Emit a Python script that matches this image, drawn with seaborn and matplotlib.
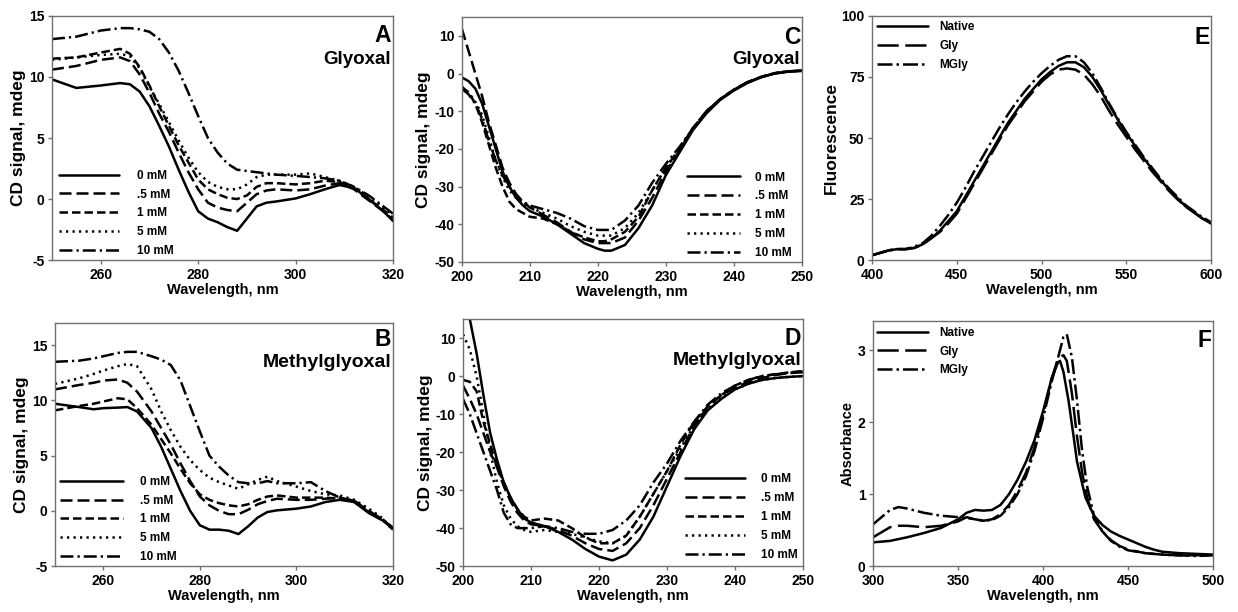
import numpy as np
import matplotlib
matplotlib.use("Agg")
import matplotlib.pyplot as plt
import seaborn as sns

# ---- Panel A: Glyoxal, near-UV CD ----
wl_a = [250, 255, 260, 264, 266, 268, 270, 272, 274, 276, 278, 280, 282, 284, 286, 288,
        290, 292, 294, 296, 300, 303, 306, 309, 312, 315, 318, 320]
a_0 = [9.8, 9.1, 9.3, 9.5, 9.4, 8.8, 7.6, 6.0, 4.3, 2.4, 0.6, -1.0, -1.6, -1.9, -2.3, -2.6,
       -1.6, -0.6, -0.3, -0.2, 0.05, 0.4, 0.8, 1.15, 0.9, 0.0, -1.0, -1.8]
a_05 = [10.6, 10.9, 11.4, 11.6, 11.3, 10.2, 8.7, 7.0, 5.5, 3.8, 2.2, 0.8, -0.3, -0.7, -0.9, -1.0,
        -0.3, 0.4, 0.7, 0.8, 0.7, 0.8, 1.1, 1.3, 0.8, -0.1, -1.0, -1.7]
a_1 = [11.5, 11.6, 12.0, 12.3, 11.9, 10.8, 9.3, 7.6, 6.0, 4.4, 3.0, 1.6, 0.8, 0.4, 0.1, 0.0,
       0.3, 1.0, 1.3, 1.3, 1.2, 1.3, 1.5, 1.4, 0.9, 0.0, -0.9, -1.5]
a_5 = [11.4, 11.6, 11.8, 11.9, 11.7, 10.7, 9.2, 7.8, 6.3, 4.8, 3.4, 2.2, 1.4, 1.0, 0.8, 0.8,
       1.2, 1.8, 2.0, 2.0, 2.0, 2.1, 1.8, 1.5, 1.0, 0.2, -0.7, -1.3]
a_10 = [13.1, 13.3, 13.8, 14.0, 14.0, 13.9, 13.7, 13.1, 12.0, 10.5, 8.7, 6.8, 5.0, 3.8, 2.9, 2.4,
        2.3, 2.2, 2.1, 2.0, 1.9, 1.8, 1.7, 1.5, 1.0, 0.3, -0.6, -1.2]

# ---- Panel B: Methylglyoxal, near-UV CD ----
wl_b = [250, 255, 258, 260, 263, 265, 267, 270, 272, 274, 276, 278, 280, 282, 284, 286, 288,
        290, 292, 294, 296, 300, 303, 306, 309, 312, 315, 318, 320]
b_0 = [9.7, 9.4, 9.2, 9.3, 9.35, 9.4, 9.0, 7.5, 5.8, 3.8, 1.8, 0.0, -1.3, -1.7, -1.7, -1.8, -2.1,
       -1.4, -0.6, -0.1, 0.05, 0.2, 0.4, 0.8, 1.0, 0.8, -0.2, -0.9, -1.6]
b_05 = [11.0, 11.4, 11.6, 11.8, 11.9, 11.6, 10.8, 9.0, 7.5, 6.0, 4.3, 2.7, 1.3, 0.5, 0.0, -0.3, -0.3,
        0.1, 0.6, 0.9, 1.1, 1.0, 1.0, 1.1, 1.2, 0.9, 0.0, -0.9, -1.5]
b_1 = [9.1, 9.5, 9.7, 9.9, 10.2, 10.1, 9.3, 7.8, 6.5, 5.2, 3.8, 2.5, 1.5, 1.0, 0.7, 0.5, 0.4,
       0.6, 1.0, 1.3, 1.4, 1.2, 1.2, 1.2, 1.1, 0.8, -0.1, -0.9, -1.5]
b_5 = [11.5, 12.0, 12.4, 12.7, 13.1, 13.3, 13.1, 11.0, 9.0, 7.3, 5.8, 4.6, 3.7, 3.0, 2.6, 2.3, 2.0,
       2.4, 2.8, 3.1, 2.7, 2.2, 1.8, 1.5, 1.4, 1.0, 0.2, -0.7, -1.8]
b_10 = [13.5, 13.6, 13.8, 14.0, 14.3, 14.4, 14.4, 14.0, 13.7, 13.2, 11.8, 9.5, 7.2, 5.0, 4.0, 3.2, 2.6,
        2.5, 2.5, 2.7, 2.5, 2.5, 2.6, 1.8, 1.2, 0.9, 0.0, -0.8, -1.7]

# ---- Panel C: Glyoxal, far-UV CD ----
wl_c = [200, 201, 202, 203, 204, 205, 206, 207, 208, 209, 210, 212, 214, 216, 218, 220, 221,
        222, 224, 226, 228, 230, 232, 234, 236, 238, 240, 242, 244, 246, 248, 250]
c_0 = [-1, -2, -4, -8, -14, -20, -26, -30, -33, -35, -36.5, -38, -40, -42.5, -45, -46.5, -47,
       -47, -45.5, -41, -35, -27, -21, -15, -10.5, -7, -4.5, -2.5, -1.0, 0, 0.5, 0.7]
c_05 = [12, 6, 0, -6, -13, -19, -25, -29, -32, -34, -35.5, -37.5, -39.5, -42, -44, -45, -45,
        -45, -43.5, -39, -33, -26, -20.5, -14.5, -10, -6.8, -4.3, -2.3, -0.9, 0.1, 0.6, 0.8]
c_1 = [-3.5, -5, -8, -13, -19, -25, -30, -34, -36, -37, -38, -38.5, -40, -42, -43.5, -44.5, -44.5,
       -44, -42, -38, -31, -25, -20, -14.5, -10, -6.8, -4.3, -2.3, -0.9, 0.1, 0.6, 0.8]
c_5 = [-3.5, -5, -7.5, -11, -17, -23, -27.5, -31, -33, -34.5, -35.5, -37, -38.5, -40.5, -42, -43, -43,
       -43, -41, -37, -31, -25, -20, -14.5, -10, -6.8, -4.3, -2.3, -0.9, 0.1, 0.6, 0.8]
c_10 = [-4, -5.5, -8, -12, -18, -23, -27, -30, -32.5, -34, -35, -36, -37, -38.5, -40.5, -41.5, -41.5,
        -41.5, -39, -35, -29, -24, -19.5, -14.5, -10, -6.8, -4.3, -2.3, -0.9, 0.1, 0.6, 0.8]

# ---- Panel D: Methylglyoxal, far-UV CD ----
wl_d = [200, 201, 202, 203, 204, 205, 206, 207, 208, 209, 210, 212, 214, 216, 218, 220, 222,
        224, 226, 228, 230, 232, 234, 236, 238, 240, 242, 244, 246, 248, 250]
d_0 = [25, 15, 6, -5, -15, -22, -28, -32, -35, -37.5, -38.5, -39.5, -41, -43, -45.5, -47.5, -48.5,
       -47, -43, -37, -29, -21, -14, -9, -6, -3.5, -2, -1, -0.5, -0.2, 0]
d_05 = [-2.5, -6, -10, -15, -20, -24, -29, -33, -36, -38, -39, -39.5, -40.5, -42, -44, -45.5, -46,
        -44, -40, -34, -27, -20, -13, -8, -5, -3, -1.5, -0.5, 0.3, 0.8, 1.3]
d_1 = [-1, -1.5, -4, -12, -18, -24, -28, -32, -35, -37, -38, -37.5, -38, -40, -42.5, -44, -44,
       -42, -37, -31, -25, -18, -12, -8, -5, -2.5, -1, 0, 0.5, 1.0, 1.3]
d_5 = [11, 7, 0, -10, -20, -28, -34, -37.5, -39.5, -40.5, -41, -40.5, -41, -41.5, -42.5, -43.5, -44,
       -42, -37, -31, -25, -19, -13, -8.5, -5.5, -3.5, -2, -1, -0.5, -0.2, 0]
d_10 = [-6, -10, -15, -20, -25, -30, -36, -39, -40, -40, -40, -39.5, -40, -41, -41.5, -41.5, -40.5,
        -38, -34, -28, -23, -17, -12, -7.5, -4.5, -2.5, -1, 0, 0.5, 0.8, 1.0]

# ---- Panel E: fluorescence ----
wl_e = [400, 410, 415, 420, 425, 430, 435, 440, 445, 450, 455, 460, 465, 470, 475, 480, 485, 490,
        495, 500, 505, 510, 515, 520, 525, 530, 535, 540, 545, 550, 555, 560, 565, 570, 575, 580,
        585, 590, 595, 600]
e_native = [2, 4, 4.5, 4.5, 5, 6.5, 9, 12, 16, 20, 26, 32, 38, 44, 50, 56, 61, 66,
            70, 74, 77, 79.5, 81, 81, 79, 75, 69.5, 63.5, 57.5, 52, 47, 42, 37.5, 33, 29, 25.5,
            22, 19.5, 17, 15]
e_gly = [2, 4, 4.5, 4.5, 5, 6.5, 9, 11.5, 15, 19, 25, 31, 37, 43, 49, 55, 60, 65,
         69, 73, 76, 78, 78.5, 78, 76, 72, 67, 61, 55.5, 50.5, 45.5, 41, 36.5, 32.5, 28.5, 25,
         22, 19.5, 17, 15]
e_mgly = [2, 4, 4.5, 4.5, 5.5, 7, 10, 14, 18.5, 23.5, 29.5, 36, 42, 48, 54, 59.5, 64.5, 69,
          73, 76.5, 79.5, 82, 83.5, 83.5, 81, 76.5, 70.5, 64, 58, 52.5, 47.5, 42.5, 38, 33.5, 29.5, 26,
          22.5, 20, 17.5, 15.5]

# ---- Panel F: absorbance ----
wl_f_native = [300, 310, 320, 330, 340, 350, 355, 360, 365, 370, 375, 380, 385, 390, 395, 400,
               405, 408, 410, 412, 415, 418, 420, 425, 430, 435, 440, 445, 450, 455, 460, 465,
               470, 480, 490, 500]
f_native = [0.33, 0.35, 0.40, 0.46, 0.53, 0.65, 0.74, 0.78, 0.77, 0.78, 0.85, 1.0, 1.2, 1.45, 1.75, 2.15,
            2.6, 2.82, 2.85, 2.7, 2.3, 1.8, 1.45, 0.95, 0.7, 0.57, 0.48, 0.42, 0.37, 0.32, 0.27, 0.23,
            0.2, 0.18, 0.17, 0.16]
wl_f_mod = [300, 305, 310, 315, 320, 330, 340, 350, 355, 360, 365, 370, 375, 380, 385, 390, 395,
            400, 405, 410, 412, 414, 417, 420, 423, 426, 430, 435, 440, 445, 450, 460, 470, 480,
            490, 500]
f_gly = [0.40, 0.47, 0.54, 0.56, 0.56, 0.54, 0.56, 0.62, 0.68, 0.65, 0.63, 0.65, 0.72, 0.85, 1.05, 1.3, 1.65,
         2.1, 2.6, 2.9, 2.93, 2.85, 2.4, 1.8, 1.3, 0.95, 0.65, 0.48, 0.36, 0.28, 0.23, 0.18, 0.16, 0.15,
         0.15, 0.15]
f_mgly = [0.58, 0.68, 0.78, 0.82, 0.80, 0.74, 0.70, 0.68, 0.67, 0.65, 0.63, 0.64, 0.70, 0.82, 1.0, 1.25, 1.6,
          2.05, 2.55, 3.0, 3.18, 3.22, 2.9, 2.3, 1.6, 1.1, 0.7, 0.48, 0.35, 0.27, 0.22, 0.18, 0.16, 0.15,
          0.14, 0.15]

conc_labels = ["0 mM", ".5 mM", "1 mM", "5 mM", "10 mM"]
sample_labels = ["Native", "Gly", "MGly"]

sns.set_style("ticks")
plt.rcParams["font.family"] = ["Liberation Sans", "DejaVu Sans"]
plt.rcParams["font.weight"] = "bold"
plt.rcParams["axes.labelweight"] = "bold"
plt.rcParams["text.color"] = "black"
plt.rcParams["axes.labelcolor"] = "black"
plt.rcParams["axes.unicode_minus"] = False
plt.rcParams["axes.edgecolor"] = "#707070"
plt.rcParams["axes.linewidth"] = 1.0
plt.rcParams["xtick.color"] = "#707070"
plt.rcParams["ytick.color"] = "#707070"
plt.rcParams["xtick.labelcolor"] = "black"
plt.rcParams["ytick.labelcolor"] = "black"

LW = 1.8
conc_styles = ["-", (0, (4.8, 2.0)), (0, (3.4, 1.6)), (0, (0.9, 1.7)), (0, (5.2, 1.6, 0.9, 1.6))]
sample_styles = ["-", (0, (8.5, 2.6)), (0, (6.0, 1.6, 1.0, 1.6))]

fig = plt.figure(figsize=(12.38, 6.12), dpi=100)


def draw_panel(rect, xs, ys, labels, styles, xlim, ylim, xticks, yticks, ylabel,
               letter, title, leg):
    ax = fig.add_axes(rect)
    for x, y, lab, st in zip(xs, ys, labels, styles):
        sns.lineplot(x=x, y=y, ax=ax, color="black", lw=LW, linestyle=st,
                     label=lab, errorbar=None, sort=False)
    ax.set_xlim(*xlim)
    ax.set_ylim(*ylim)
    ax.set_xticks(xticks)
    ax.set_yticks(yticks)
    ax.tick_params(labelsize=10, length=3, width=1, pad=2.5)
    for t in ax.get_xticklabels() + ax.get_yticklabels():
        t.set_fontweight("bold")
    ax.set_xlabel("Wavelength, nm", fontsize=10.5, labelpad=1)
    ax.set_ylabel(ylabel[0], fontsize=ylabel[1], labelpad=2)
    ax.text(0.995, letter[1], letter[0], transform=ax.transAxes, ha="right", va="top",
            fontsize=16.5, fontweight="bold")
    if title:
        ax.text(0.995, title[1], title[0], transform=ax.transAxes, ha="right", va="top",
                fontsize=title[2], fontweight="bold")
    ax.legend(loc=leg["loc"], bbox_to_anchor=leg["anchor"], frameon=False,
              handlelength=leg["hl"], handletextpad=leg["pad"], labelspacing=0.58,
              borderpad=0, borderaxespad=0, prop={"weight": "bold", "size": 8.5})
    return ax


xs_a = [wl_a] * 5
xs_b = [wl_b] * 5
xs_c = [wl_c] * 5
xs_d = [wl_d] * 5

draw_panel([0.042, 0.575, 0.2755, 0.399], xs_a, [a_0, a_05, a_1, a_5, a_10], conc_labels,
           conc_styles, (250, 320), (-5, 15), [260, 280, 300, 320], [-5, 0, 5, 10, 15],
           ("CD signal, mdeg", 12.5), ("A", 0.965), ("Glyoxal", 0.855, 13.5),
           {"loc": "lower left", "anchor": (0.02, 0.012), "hl": 5.1, "pad": 1.5})

draw_panel([0.373, 0.572, 0.2746, 0.400], xs_c, [c_0, c_05, c_1, c_5, c_10], conc_labels,
           conc_styles, (200, 250), (-50, 15), [200, 210, 220, 230, 240, 250],
           [-50, -40, -30, -20, -10, 0, 10],
           ("CD signal, mdeg", 12.5), ("C", 0.965), ("Glyoxal", 0.862, 13.5),
           {"loc": "lower left", "anchor": (0.662, 0.012), "hl": 4.5, "pad": 1.3})

draw_panel([0.7044, 0.575, 0.2738, 0.399], [wl_e] * 3, [e_native, e_gly, e_mgly], sample_labels,
           sample_styles, (400, 600), (0, 100), [400, 450, 500, 550, 600], [0, 25, 50, 75, 100],
           ("Fluorescence", 12.5), ("E", 0.96), None,
           {"loc": "upper left", "anchor": (0.015, 0.978), "hl": 4.3, "pad": 1.0})

draw_panel([0.0444, 0.075, 0.273, 0.397], xs_b, [b_0, b_05, b_1, b_5, b_10], conc_labels,
           conc_styles, (250, 320), (-5, 17), [260, 280, 300, 320], [-5, 0, 5, 10, 15],
           ("CD signal, mdeg", 12.5), ("B", 0.98), ("Methylglyoxal", 0.875, 14),
           {"loc": "lower left", "anchor": (0.015, 0.012), "hl": 5.3, "pad": 1.5})

draw_panel([0.374, 0.075, 0.2746, 0.4036], xs_d, [d_0, d_05, d_1, d_5, d_10], conc_labels,
           conc_styles, (200, 250), (-50, 15), [200, 210, 220, 230, 240, 250],
           [-50, -40, -30, -20, -10, 0, 10],
           ("CD signal, mdeg", 12.5), ("D", 0.97), ("Methylglyoxal", 0.865, 14),
           {"loc": "lower left", "anchor": (0.653, 0.022), "hl": 5.1, "pad": 1.3})

draw_panel([0.7052, 0.075, 0.2746, 0.400], [wl_f_native, wl_f_mod, wl_f_mod], [f_native, f_gly, f_mgly],
           sample_labels, sample_styles, (300, 500), (0, 3.4), [300, 350, 400, 450, 500], [0, 1, 2, 3],
           ("Absorbance", 10.5), ("F", 0.97), None,
           {"loc": "upper left", "anchor": (0.012, 0.978), "hl": 4.3, "pad": 1.0})

fig.savefig("out.png", dpi=100)
